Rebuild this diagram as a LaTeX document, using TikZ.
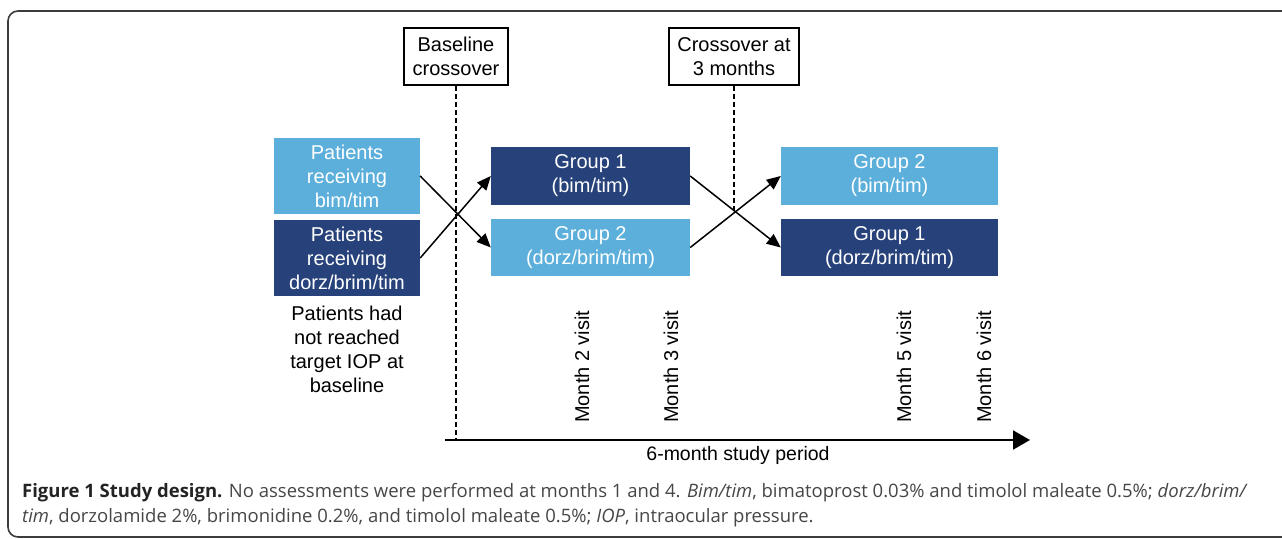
\documentclass[tikz,border=0pt]{standalone}
\usepackage{fontspec}
\setmainfont{Liberation Sans}
\newfontfamily\capfont{Open Sans}
\usetikzlibrary{arrows.meta,calc}
\definecolor{lblue}{RGB}{91,175,218}
\definecolor{dblue}{RGB}{39,66,122}
\definecolor{capgray}{RGB}{70,70,70}
\definecolor{capdark}{RGB}{35,35,35}
\definecolor{framegray}{RGB}{60,60,60}
\begin{document}
\begin{tikzpicture}[x=1pt,y=-1pt,
  boxtext/.style={align=center,font=\fontsize{20}{24}\selectfont,inner sep=0pt},
  lbox/.style={boxtext,fill=lblue,text=white},
  dbox/.style={boxtext,fill=dblue,text=white},
  labelbox/.style={boxtext,draw=black,line width=2pt,fill=white,minimum width=#1,minimum height=57pt},
  dashline/.style={line width=1.5pt,dash pattern=on 5pt off 3pt},
  cross/.style={line width=1.5pt,-{Triangle[length=14pt,width=12pt]}},
  visit/.style={rotate=90,anchor=west,inner sep=0pt,font=\fontsize{20}{24}\selectfont},
  axisline/.style={line width=2pt,-{Triangle[length=17pt,width=19pt]}},
  captext/.style={anchor=base west,inner sep=0pt,text=capgray,font=\capfont\fontsize{18.5}{23}\selectfont}
]
\useasboundingbox (0,0) rectangle (1282,538);
\begin{scope}
\clip (0,0) rectangle (1282,538);
\draw[framegray,line width=1.6pt,rounded corners=10pt] (8,11) rectangle (1320,537);
\end{scope}

% label boxes
\node[labelbox=104pt] (bc) at (456,56.5) {Baseline\\crossover};
\node[labelbox=130pt] (c3) at (734,56.5) {Crossover at\\3 months};

% patient boxes
\node[lbox,minimum width=146pt,minimum height=76pt] (pb) at (347,176) {Patients\\receiving\\bim/tim};
\node[dbox,minimum width=146pt,minimum height=76pt] (pd) at (347,258) {Patients\\receiving\\dorz/brim/tim};

% group boxes
\node[dbox,minimum width=199pt,minimum height=58pt] (g1l) at (590.5,176) {Group 1\\(bim/tim)};
\node[lbox,minimum width=199pt,minimum height=57pt] (g2l) at (590.5,247.5) {Group 2\\(dorz/brim/tim)};
\node[lbox,minimum width=217pt,minimum height=58pt] (g2r) at (889.5,176) {Group 2\\(bim/tim)};
\node[dbox,minimum width=217pt,minimum height=57pt] (g1r) at (889.5,247.5) {Group 1\\(dorz/brim/tim)};

% note
\node[boxtext] (note) at (347,349) {Patients had\\not reached\\target IOP at\\baseline};

% axis
\coordinate (axs) at (445,440);
\coordinate (axe) at (1030,440);
\draw[axisline] (axs) -- (axe);
\node[inner sep=0pt,font=\fontsize{19.5}{24}\selectfont] (period) at (738,455) {6-month study period};

% dashed lines
\coordinate (m2) at ($(g1l.east)!0.5!(g1r.west)$);
\draw[dashline] (bc.south) -- (bc.south |- axs);
\draw[dashline] (c3.south) -- (c3.south |- m2);

% crossing arrows
\draw[cross] (pb.east) -- (g2l.west);
\draw[cross] (pd.east) -- (g1l.west);
\draw[cross] (g1l.east) -- (g1r.west);
\draw[cross] (g2l.east) -- (g2r.west);

% visits
\node[visit] (v2) at (582,423) {Month 2 visit};
\node[visit] (v3) at (671,423) {Month 3 visit};
\node[visit] (v5) at (904,423) {Month 5 visit};
\node[visit] (v6) at (984,423) {Month 6 visit};

% caption
\node[captext] (cap1) at (22,497)
  {{\bfseries\color{capdark}Figure 1 Study design.} No assessments were performed at months 1 and 4. \textit{Bim/tim}, bimatoprost 0.03\% and timolol maleate 0.5\%; \textit{dorz/brim/}};
\node[captext] (cap2) at (22,522)
  {\textit{tim}, dorzolamide 2\%, brimonidine 0.2\%, and timolol maleate 0.5\%; \textit{IOP}, intraocular pressure.};
\end{tikzpicture}
\end{document}
